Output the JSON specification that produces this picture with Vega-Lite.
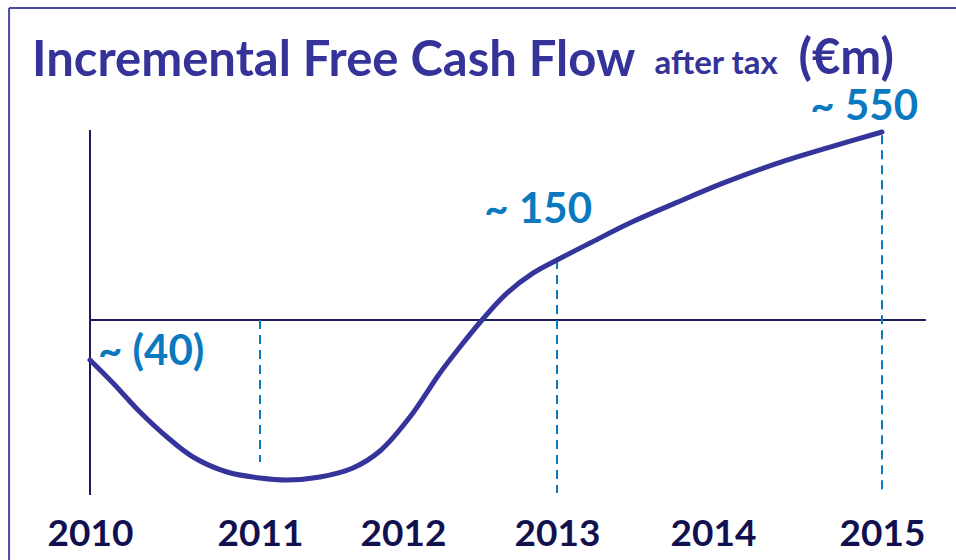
{
  "$schema": "https://vega.github.io/schema/vega-lite/v6.json",
  "usermeta": {"embedOptions": {"actions": false}},
  "width": 947,
  "height": 552,
  "autosize": {"type": "none"},
  "padding": {"left": 9, "top": 8, "right": 0, "bottom": 0},
  "background": "white",
  "title": {
    "text": "Incremental Free Cash Flow",
    "anchor": "start",
    "frame": "group",
    "font": "Lato",
    "fontSize": 49,
    "fontWeight": "bold",
    "color": "#35339a",
    "baseline": "alphabetic",
    "offset": 0,
    "dx": 23,
    "dy": 118
  },
  "config": {"view": {"stroke": null}},
  "datasets": {
    "curve": [
      {"year": 2010.0, "value": -40, "label": "~ (40)"},
      {"year": 2010.135, "value": -63},
      {"year": 2010.294, "value": -92},
      {"year": 2010.453, "value": -117},
      {"year": 2010.606, "value": -137},
      {"year": 2010.806, "value": -152},
      {"year": 2011.0, "value": -158},
      {"year": 2011.189, "value": -160},
      {"year": 2011.42, "value": -157},
      {"year": 2011.65, "value": -148},
      {"year": 2011.839, "value": -131},
      {"year": 2012.045, "value": -97},
      {"year": 2012.24, "value": -53},
      {"year": 2012.37, "value": -27},
      {"year": 2012.513, "value": 0},
      {"year": 2012.675, "value": 67},
      {"year": 2012.844, "value": 117},
      {"year": 2013.0, "value": 150, "label": "~ 150"},
      {"year": 2013.212, "value": 203},
      {"year": 2013.487, "value": 270},
      {"year": 2013.769, "value": 330},
      {"year": 2014.059, "value": 390},
      {"year": 2014.379, "value": 452},
      {"year": 2014.692, "value": 503},
      {"year": 2015.0, "value": 550, "label": "~ 550"}
    ],
    "dashes": [
      {"year": 2011, "value": 0, "value2": -142},
      {"year": 2013, "value": 150, "value2": -173},
      {"year": 2015, "value": 540, "value2": -172}
    ]
  },
  "layer": [
    {
      "data": {"values": [{}]},
      "mark": {"type": "rule", "color": "#4848a8", "strokeWidth": 2},
      "encoding": {
        "x": {"datum": 2009.524, "type": "quantitative"},
        "y": {"datum": 940, "type": "quantitative"},
        "y2": {"datum": -300}
      }
    },
    {
      "data": {"values": [{}]},
      "mark": {"type": "rule", "color": "#4848a8", "strokeWidth": 2},
      "encoding": {
        "x": {"datum": 2009.524, "type": "quantitative"},
        "x2": {"datum": 2018},
        "y": {"datum": 940, "type": "quantitative"}
      }
    },
    {
      "data": {"values": [{}]},
      "mark": {"type": "rule", "color": "#1c1c5c", "strokeWidth": 2},
      "encoding": {
        "x": {"datum": 2010, "type": "quantitative"},
        "y": {"datum": 556, "type": "quantitative"},
        "y2": {"datum": -175}
      }
    },
    {
      "data": {"values": [{}]},
      "mark": {"type": "rule", "color": "#1c1c5c", "strokeWidth": 2},
      "encoding": {
        "x": {"datum": 2010, "type": "quantitative"},
        "x2": {"datum": 2015.26},
        "y": {"datum": 0, "type": "quantitative"}
      }
    },
    {
      "data": {"name": "dashes"},
      "mark": {"type": "rule", "color": "#0b7bc1", "strokeWidth": 2, "strokeDash": [9, 6]},
      "encoding": {
        "x": {"field": "year", "type": "quantitative"},
        "y": {"field": "value", "type": "quantitative"},
        "y2": {"field": "value2"}
      }
    },
    {
      "data": {"name": "curve"},
      "mark": {"type": "line", "interpolate": "catmull-rom", "color": "#35349a", "strokeWidth": 5, "strokeCap": "round"},
      "encoding": {
        "x": {
          "field": "year",
          "type": "quantitative",
          "scale": {"domain": [2010, 2011, 2012, 2013, 2014, 2015], "range": [81, 251, 394, 548, 704, 873], "nice": false, "zero": false},
          "axis": {
            "orient": "bottom",
            "offset": -15,
            "values": [2010, 2011, 2012, 2013, 2014, 2015],
            "format": "d",
            "domain": false,
            "ticks": false,
            "grid": false,
            "labelFont": "Lato",
            "labelFontSize": 37,
            "labelFontWeight": "bold",
            "labelColor": "#11114f",
            "labelBaseline": "alphabetic",
            "labelPadding": 0,
            "labelFlush": false,
            "labelOverlap": false,
            "labelBound": false,
            "title": "after tax",
            "titleFont": "Lato",
            "titleFontSize": 33,
            "titleFontWeight": "bold",
            "titleColor": "#35339a",
            "titleX": 645,
            "titleY": -472,
            "titleAlign": "left",
            "titleBaseline": "alphabetic",
            "titleAngle": 0
          }
        },
        "y": {
          "field": "value",
          "type": "quantitative",
          "scale": {"domain": [-240, 0, 150, 550, 940], "range": [552, 312, 252, 124, 0], "nice": false, "zero": false},
          "axis": {
            "orient": "left",
            "domain": false,
            "ticks": false,
            "labels": false,
            "grid": false,
            "title": "(€m)",
            "titleFont": "Lato",
            "titleFontSize": 49,
            "titleFontWeight": "bold",
            "titleColor": "#35339a",
            "titleAngle": 0,
            "titleX": 789,
            "titleY": 65,
            "titleAlign": "left",
            "titleBaseline": "alphabetic"
          }
        }
      }
    },
    {
      "data": {"name": "curve"},
      "transform": [{"filter": "datum.label == '~ (40)'"}],
      "mark": {"type": "text", "align": "left", "baseline": "alphabetic", "dx": 8, "dy": 5, "font": "Lato", "fontSize": 42, "fontWeight": "bold", "color": "#0b79bf"},
      "encoding": {
        "x": {"field": "year", "type": "quantitative"},
        "y": {"field": "value", "type": "quantitative"},
        "text": {"field": "label"}
      }
    },
    {
      "data": {"name": "curve"},
      "transform": [{"filter": "datum.label == '~ 150'"}],
      "mark": {"type": "text", "align": "right", "baseline": "alphabetic", "dx": 35, "dy": -37, "font": "Lato", "fontSize": 42, "fontWeight": "bold", "color": "#0b79bf"},
      "encoding": {
        "x": {"field": "year", "type": "quantitative"},
        "y": {"field": "value", "type": "quantitative"},
        "text": {"field": "label"}
      }
    },
    {
      "data": {"name": "curve"},
      "transform": [{"filter": "datum.label == '~ 550'"}],
      "mark": {"type": "text", "align": "right", "baseline": "alphabetic", "dx": 36, "dy": -12, "font": "Lato", "fontSize": 42, "fontWeight": "bold", "color": "#0b79bf"},
      "encoding": {
        "x": {"field": "year", "type": "quantitative"},
        "y": {"field": "value", "type": "quantitative"},
        "text": {"field": "label"}
      }
    }
  ]
}
